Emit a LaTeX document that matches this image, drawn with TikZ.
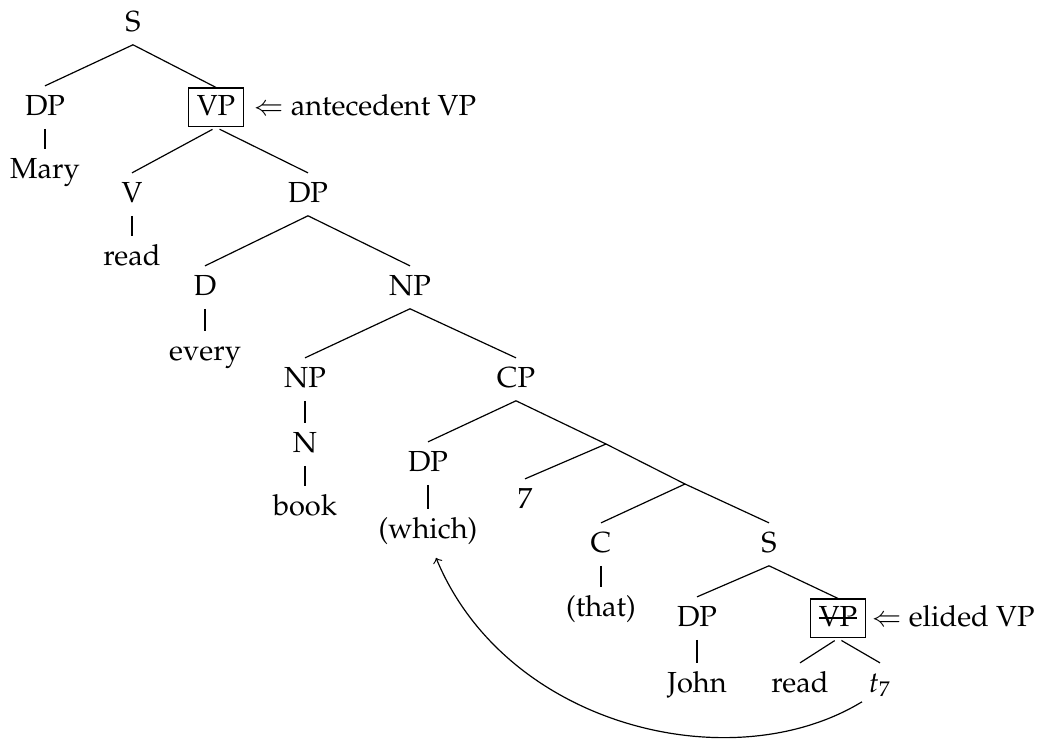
\documentclass[tikz,border=0pt]{standalone}
\usepackage[T1]{fontenc}
\usepackage{mathpazo}
\newcommand{\strikeit}[1]{\setbox0\hbox{#1}\rlap{\rule[0.55ex]{\wd0}{0.45pt}}\box0}
\newcommand{\larr}{{\usefont{OMS}{cmsy}{m}{n}\symbol{"28}}}
\begin{document}
\begin{tikzpicture}[x=0.3774pt,y=-0.3774pt,
  font=\fontsize{10.95pt}{13pt}\selectfont,
  lab/.style={anchor=base, inner sep=3pt, text height=7.8pt, text depth=2pt},
  boxlab/.style={anchor=base, draw, inner sep=3pt, text height=7.2pt, text depth=1.5pt},
  ann/.style={anchor=base west, inner sep=0pt},
  br/.style={line width=0.45pt},
  frombox/.style={br, shorten <=1.5pt}]
\useasboundingbox (0,0) rectangle (1043,740);
% nodes
\node[lab] (S) at (133,31) {S};
\node[lab] (DPa) at (45,115) {DP};
\node[boxlab] (VPa) at (216,115) {VP};
\node[ann] (anna) at (254,115) {\larr\ antecedent VP};
\node[lab] (Mary) at (45,178) {Mary};
\node[lab] (V) at (132,202) {V};
\node[lab] (DPb) at (308,202) {DP};
\node[lab] (reada) at (132,265) {read};
\node[lab] (D) at (205,295) {D};
\node[lab] (NPa) at (410,295) {NP};
\node[lab] (every) at (205,360) {every};
\node[lab] (NPb) at (305,387) {NP};
\node[lab] (CP) at (516,387) {CP};
\node[lab] (N) at (305,452) {N};
\node[lab] (book) at (305,515) {book};
\node[lab] (DPc) at (428,471) {DP};
\node[lab] (which) at (428,538) {(which)};
\coordinate (b1) at (606,444);
\coordinate (b2) at (685,484);
\node[lab] (seven) at (525,508) {7};
\node[lab] (C) at (601,552) {C};
\node[lab] (Sb) at (769,552) {S};
\node[lab] (that) at (601,616) {(that)};
\node[lab] (DPd) at (697,626) {DP};
\node[boxlab] (VPb) at (838,626) {\strikeit{VP}};
\node[ann] (annb) at (872,626) {\larr\ elided VP};
\node[lab] (John) at (697,692) {John};
\node[lab] (readb) at (800,692) {read};
\node[lab] (t7) at (880,692) {$t_7$};
% edges
\draw[br] (S.south) -- (DPa.north);
\draw[br] (S.south) -- (VPa.north);
\draw[br] (DPa.south) -- (Mary.north);
\draw[frombox] (VPa.south) -- (V.north);
\draw[frombox] (VPa.south) -- (DPb.north);
\draw[br] (V.south) -- (reada.north);
\draw[br] (DPb.south) -- (D.north);
\draw[br] (DPb.south) -- (NPa.north);
\draw[br] (D.south) -- (every.north);
\draw[br] (NPa.south) -- (NPb.north);
\draw[br] (NPa.south) -- (CP.north);
\draw[br] (NPb.south) -- (N.north);
\draw[br] (N.south) -- (book.north);
\draw[br] (CP.south) -- (DPc.north);
\draw[br] (CP.south) -- (b1);
\draw[br] (DPc.south) -- (which.north);
\draw[br] (b1) -- (seven.north);
\draw[br] (b1) -- (b2);
\draw[br] (b2) -- (C.north);
\draw[br] (b2) -- (Sb.north);
\draw[br] (C.south) -- (that.north);
\draw[br] (Sb.south) -- (DPd.north);
\draw[br] (Sb.south) -- (VPb.north);
\draw[br] (DPd.south) -- (John.north);
\draw[frombox] (VPb.south) -- (readb.north);
\draw[frombox] (VPb.south) -- (t7.north);
% movement arrow
\draw[br,->] ([shift={(-18,-4)}]t7.south) .. controls (732,781) and (506,727) .. ([shift={(8,6)}]which.south);
\end{tikzpicture}
\end{document}
